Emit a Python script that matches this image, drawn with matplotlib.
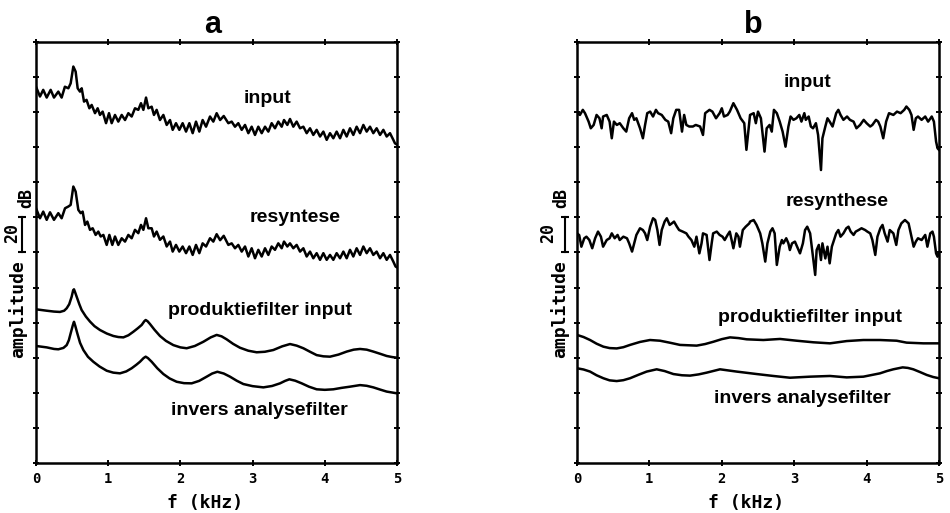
import numpy as np
import matplotlib.pyplot as plt

# ---- panel a: harmonic spectra (kHz, dB) ----
input_a_f = [0.00, 0.055, 0.10, 0.148, 0.203, 0.249, 0.309, 0.355, 0.40, 0.448, 0.48, 0.517, 0.549, 0.577,
             0.609, 0.633, 0.665, 0.70, 0.739, 0.771, 0.817, 0.854, 0.886, 0.923, 0.97, 1.011, 1.048, 1.094,
             1.14, 1.187, 1.233, 1.279, 1.325, 1.371, 1.417, 1.454, 1.487, 1.524, 1.556, 1.602, 1.634, 1.671,
             1.717, 1.764, 1.81, 1.856, 1.893, 1.939, 1.985, 2.031, 2.078, 2.124, 2.17, 2.216, 2.262, 2.308,
             2.355, 2.41, 2.456, 2.502, 2.55, 2.60, 2.664, 2.71, 2.756, 2.802, 2.849, 2.895, 2.941, 2.987,
             3.033, 3.079, 3.126, 3.172, 3.218, 3.264, 3.31, 3.356, 3.403, 3.435, 3.481, 3.518, 3.564, 3.61,
             3.657, 3.703, 3.749, 3.795, 3.841, 3.887, 3.934, 3.98, 4.026, 4.072, 4.118, 4.164, 4.211, 4.257,
             4.303, 4.349, 4.395, 4.441, 4.488, 4.534, 4.58, 4.626, 4.672, 4.718, 4.765, 4.811, 4.857, 4.903,
             4.949, 4.972, 5.0]
input_a_db = [214.5, 208.9, 212.7, 208.3, 212.7, 208.3, 211.7, 208.3, 214.5, 213.6, 216.4, 226.0, 223.1, 213.6,
              211.7, 213.6, 206.0, 207.0, 202.2, 204.1, 199.4, 202.2, 198.4, 200.3, 193.7, 199.4, 193.7, 198.4,
              194.6, 198.4, 195.5, 199.4, 197.5, 202.2, 201.3, 205.1, 201.3, 208.3, 202.2, 203.1, 198.4, 201.3,
              195.5, 198.4, 192.7, 195.5, 189.9, 193.7, 189.9, 193.7, 188.9, 193.7, 188.0, 194.6, 188.9, 195.5,
              191.7, 197.5, 194.6, 199.4, 195.5, 197.8, 193.7, 194.6, 191.7, 193.7, 189.9, 192.7, 188.0, 191.7,
              187.0, 191.7, 188.0, 191.7, 188.9, 193.7, 190.8, 194.6, 191.7, 195.5, 192.7, 196.1, 191.7, 194.6,
              190.8, 191.7, 188.0, 190.8, 187.0, 189.9, 186.1, 188.9, 184.2, 188.0, 185.1, 188.9, 185.1, 189.9,
              186.1, 190.8, 187.0, 191.7, 188.0, 192.7, 188.9, 191.7, 188.0, 190.8, 187.0, 189.9, 186.1, 188.0,
              184.2, 182.2, 181.5]

resyn_a_f = [0.00, 0.055, 0.10, 0.148, 0.194, 0.249, 0.309, 0.355, 0.402, 0.448, 0.48, 0.517, 0.549, 0.586,
             0.619, 0.646, 0.679, 0.711, 0.748, 0.785, 0.826, 0.863, 0.896, 0.933, 0.979, 1.016, 1.057, 1.094,
             1.14, 1.187, 1.233, 1.279, 1.325, 1.371, 1.417, 1.454, 1.487, 1.524, 1.556, 1.602, 1.634, 1.671,
             1.717, 1.764, 1.81, 1.856, 1.893, 1.939, 1.985, 2.031, 2.078, 2.124, 2.17, 2.216, 2.262, 2.308,
             2.355, 2.41, 2.456, 2.502, 2.55, 2.60, 2.664, 2.71, 2.756, 2.802, 2.849, 2.895, 2.941, 2.987,
             3.033, 3.079, 3.126, 3.172, 3.218, 3.264, 3.31, 3.356, 3.403, 3.435, 3.481, 3.518, 3.564, 3.61,
             3.657, 3.703, 3.749, 3.795, 3.841, 3.887, 3.934, 3.98, 4.026, 4.072, 4.118, 4.164, 4.211, 4.257,
             4.303, 4.349, 4.395, 4.441, 4.488, 4.534, 4.58, 4.626, 4.672, 4.718, 4.765, 4.811, 4.857, 4.903,
             4.949, 4.98, 5.0]
resyn_a_db = [145.2, 139.5, 143.3, 138.6, 142.9, 138.6, 142.4, 139.5, 145.2, 146.2, 147.1, 157.6, 154.7, 144.3,
              142.4, 143.3, 135.7, 137.6, 132.9, 133.8, 130.0, 131.9, 129.1, 130.0, 124.3, 130.0, 124.3, 129.1,
              124.3, 128.1, 126.2, 130.0, 128.1, 132.9, 131.0, 135.7, 132.9, 139.5, 133.8, 133.8, 129.1, 131.9,
              127.2, 129.1, 123.4, 126.2, 120.5, 124.3, 120.5, 123.4, 119.6, 123.4, 118.6, 124.3, 119.6, 125.2,
              123.4, 128.1, 126.2, 130.4, 127.0, 129.5, 124.3, 125.2, 122.4, 124.3, 120.5, 123.4, 117.7, 122.4,
              116.7, 121.5, 117.7, 122.4, 118.6, 123.4, 121.5, 125.2, 122.4, 126.2, 123.4, 125.2, 122.4, 124.3,
              120.5, 122.4, 117.7, 120.5, 116.7, 119.6, 115.8, 119.6, 115.8, 118.6, 115.8, 119.6, 116.7, 120.5,
              116.7, 121.5, 117.7, 122.4, 118.6, 123.4, 119.6, 122.4, 118.6, 120.5, 116.7, 119.6, 115.8, 118.6,
              114.8, 112.0, 111.5]

prod_a_f = [0.0, 0.148, 0.25, 0.332, 0.39, 0.425, 0.46, 0.494, 0.515, 0.526, 0.54, 0.563, 0.60, 0.632, 0.69,
            0.748, 0.81, 0.886, 0.98, 1.071, 1.14, 1.21, 1.28, 1.348, 1.41, 1.464, 1.50, 1.519, 1.545, 1.579,
            1.64, 1.717, 1.80, 1.902, 2.0, 2.087, 2.2, 2.318, 2.42, 2.502, 2.57, 2.64, 2.73, 2.825, 2.94,
            3.056, 3.17, 3.287, 3.41, 3.518, 3.61, 3.703, 3.80, 3.887, 3.98, 4.072, 4.19, 4.303, 4.40, 4.488,
            4.58, 4.672, 4.77, 4.857, 4.93, 5.0]
prod_a_db = [87.6, 86.8, 86.3, 86.1, 86.8, 88.2, 90.5, 94.8, 98.5, 99.0, 97.5, 94.8, 90.5, 87.2, 83.5,
             80.6, 78.0, 75.8, 73.8, 72.4, 71.8, 71.6, 72.8, 74.8, 76.8, 78.7, 80.8, 81.5, 80.8, 79.2,
             76.0, 72.4, 69.6, 67.2, 65.9, 65.4, 66.7, 69.1, 71.6, 73.0, 72.2, 70.5, 67.9, 65.7, 64.0,
             63.1, 63.4, 64.4, 66.5, 67.8, 66.9, 65.4, 63.3, 61.5, 60.8, 60.6, 61.8, 63.5, 64.6, 65.0,
             64.6, 63.5, 62.2, 61.0, 60.4, 60.0]

inv_a_f = [0.0, 0.148, 0.25, 0.309, 0.38, 0.425, 0.455, 0.48, 0.51, 0.526, 0.545, 0.572, 0.61, 0.656, 0.72,
           0.794, 0.88, 0.979, 1.07, 1.163, 1.25, 1.325, 1.39, 1.44, 1.49, 1.519, 1.55, 1.602, 1.68, 1.764,
           1.85, 1.948, 2.05, 2.156, 2.26, 2.364, 2.44, 2.512, 2.60, 2.687, 2.78, 2.872, 3.0, 3.149, 3.27,
           3.38, 3.45, 3.509, 3.59, 3.68, 3.78, 3.887, 4.0, 4.118, 4.23, 4.349, 4.488, 4.58, 4.672, 4.77,
           4.857, 5.0]
inv_a_db = [66.7, 65.9, 65.0, 64.8, 65.6, 67.2, 70.0, 73.9, 78.5, 80.5, 78.0, 73.9, 68.5, 64.4, 60.5,
            57.7, 55.0, 52.6, 51.5, 51.1, 52.2, 54.0, 56.0, 57.7, 59.8, 60.6, 59.8, 57.7, 54.0, 50.7,
            48.2, 46.3, 45.5, 45.4, 46.8, 49.2, 51.0, 52.0, 51.0, 49.2, 46.9, 45.0, 43.8, 43.1, 43.9,
            45.4, 46.8, 47.7, 46.9, 45.4, 43.5, 42.0, 41.7, 42.0, 42.8, 43.5, 44.4, 44.0, 43.1, 41.8,
            40.7, 39.7]

# ---- panel b: noise-like spectra ----
input_b_f = [0.00, 0.04, 0.08, 0.11, 0.16, 0.19, 0.23, 0.27, 0.31, 0.34, 0.36, 0.41, 0.45, 0.48, 0.51, 0.55,
             0.59, 0.64, 0.68, 0.72, 0.76, 0.79, 0.82, 0.87, 0.91, 0.94, 0.97, 1.01, 1.05, 1.09, 1.12, 1.17,
             1.22, 1.26, 1.30, 1.33, 1.37, 1.41, 1.45, 1.48, 1.51, 1.55, 1.60, 1.64, 1.70, 1.74, 1.77, 1.83,
             1.87, 1.92, 1.97, 2.00, 2.03, 2.08, 2.11, 2.16, 2.21, 2.26, 2.31, 2.34, 2.38,
             2.39, 2.44, 2.47, 2.50, 2.54, 2.56, 2.59, 2.62, 2.66, 2.69, 2.72, 2.76, 2.80, 2.84, 2.88, 2.92,
             2.95, 2.99, 3.03, 3.07, 3.10, 3.14, 3.16, 3.20, 3.23, 3.26, 3.30, 3.33, 3.37, 3.39, 3.43, 3.46,
             3.49, 3.53, 3.58, 3.61, 3.64, 3.68, 3.73, 3.77, 3.82, 3.86, 3.91, 3.96, 4.00, 4.05, 4.08, 4.13,
             4.16, 4.19, 4.23, 4.27, 4.31, 4.37, 4.42, 4.47, 4.52, 4.55, 4.59, 4.62, 4.65, 4.68, 4.71, 4.76,
             4.81, 4.85, 4.90, 4.93, 4.96, 4.98, 5.0]
input_b_db = [199.4, 198.4, 201.3, 199.4, 194.6, 190.8, 192.7, 198.4, 196.5, 190.8, 197.5, 198.4, 194.6, 185.1,
              194.6, 192.7, 193.7, 190.8, 188.9, 196.5, 199.4, 195.6, 196.5, 190.8, 185.1, 192.7, 199.4, 200.3,
              197.5, 201.3, 199.4, 198.4, 195.6, 194.6, 188.0, 196.5, 201.3, 201.3, 188.9, 198.4, 192.7, 191.8,
              191.8, 192.7, 191.8, 187.0, 199.4, 201.3, 200.3, 196.5, 199.4, 202.2, 197.5, 198.4, 200.3, 205.1,
              201.3, 196.5, 193.7, 178.5, 194.6,
              198.4, 199.4, 193.7, 200.3, 196.5, 188.9, 177.5, 190.8, 192.7, 188.9, 201.3, 199.4, 194.6, 188.9,
              180.3, 191.8, 197.5, 195.6, 196.5, 198.4, 194.6, 199.4, 195.6, 197.5, 191.8, 190.8, 193.7, 187.0,
              167.0, 185.1, 191.8, 196.5, 194.6, 191.8, 199.4, 201.3, 198.4, 195.6, 197.5, 195.6, 194.6, 190.8,
              192.7, 195.6, 193.7, 191.8, 192.7, 195.6, 194.6, 191.8, 185.1, 194.6, 199.4, 198.4, 200.3, 199.4,
              201.3, 203.2, 201.3, 198.4, 189.9, 196.5, 197.5, 195.6, 197.5, 194.6, 197.5, 194.6, 183.2, 179.4,
              178.5]

resyn_b_f = [0.00, 0.03, 0.06, 0.10, 0.13, 0.17, 0.21, 0.25, 0.29, 0.33, 0.36, 0.41, 0.45, 0.48, 0.52, 0.56,
             0.59, 0.64, 0.69, 0.72, 0.76, 0.79, 0.82, 0.87, 0.91, 0.94, 0.97, 1.01, 1.05, 1.08, 1.11, 1.14,
             1.17, 1.21, 1.24, 1.28, 1.31, 1.34, 1.38, 1.41, 1.46, 1.51, 1.54, 1.58, 1.62, 1.65, 1.69, 1.72,
             1.74, 1.79, 1.83, 1.86, 1.88, 1.93, 1.97, 2.01, 2.04, 2.08, 2.11, 2.16, 2.20, 2.23, 2.25, 2.29,
             2.33, 2.38,
             2.39, 2.44, 2.48, 2.53, 2.56, 2.60, 2.63, 2.67, 2.70, 2.73, 2.76, 2.80, 2.83, 2.85, 2.89, 2.92,
             2.94, 2.97, 3.01, 3.04, 3.08, 3.12, 3.15, 3.18, 3.22, 3.26, 3.29, 3.31, 3.34, 3.37, 3.39, 3.43,
             3.46, 3.49, 3.52, 3.55, 3.58, 3.61, 3.64, 3.68, 3.72, 3.75, 3.78, 3.82, 3.85, 3.89, 3.93, 3.98,
             4.01, 4.05, 4.08, 4.12, 4.15, 4.19, 4.22, 4.25, 4.29, 4.32, 4.37, 4.41, 4.44, 4.48, 4.53, 4.58,
             4.61, 4.65, 4.68, 4.71, 4.76, 4.81, 4.84, 4.88, 4.91, 4.93, 4.96, 4.98, 5.0]
resyn_b_db = [130.9, 129.9, 123.3, 128.1, 129.0, 127.1, 122.4, 128.1, 131.9, 129.0, 123.3, 127.1, 128.1, 130.9,
              128.1, 130.0, 127.1, 129.0, 128.1, 125.2, 120.5, 125.2, 130.0, 133.8, 132.8, 130.9, 127.1, 134.7,
              139.5, 138.5, 132.8, 124.3, 132.8, 137.6, 139.5, 135.7, 136.6, 137.6, 134.7, 132.8, 131.9, 130.9,
              129.0, 127.1, 123.3, 129.0, 119.5, 125.2, 130.9, 130.0, 115.7, 125.2, 130.9, 131.9, 130.0, 129.0,
              127.1, 130.0, 131.9, 122.4, 130.9, 129.0, 123.3, 132.8, 134.7, 136.6,
              137.6, 138.5, 135.7, 130.9, 125.2, 114.8, 125.2, 131.9, 133.8, 130.9, 112.9, 123.3, 127.1, 125.2,
              128.1, 125.2, 121.4, 125.2, 126.2, 123.3, 119.5, 125.2, 132.8, 134.7, 130.9, 117.6, 107.2, 121.4,
              124.3, 115.7, 125.2, 116.6, 123.3, 113.8, 123.3, 127.1, 130.9, 132.8, 129.0, 130.9, 133.8, 134.7,
              131.9, 130.0, 131.9, 132.8, 133.8, 132.8, 131.9, 130.9, 127.1, 118.6, 129.0, 133.8, 135.7, 130.9,
              126.2, 132.8, 130.9, 124.3, 132.8, 136.6, 138.5, 136.6, 130.9, 123.3, 126.2, 128.1, 127.1, 130.0,
              123.3, 130.9, 131.9, 129.0, 119.5, 117.6, 120.0]

prod_b_f = [0.0, 0.09, 0.18, 0.27, 0.364, 0.45, 0.548, 0.64, 0.732, 0.87, 1.008, 1.146, 1.29, 1.423, 1.653,
            1.77, 1.883, 2.0, 2.113, 2.23, 2.343, 2.574, 2.804, 3.034, 3.264, 3.494, 3.725, 3.955, 4.185,
            4.415, 4.553, 4.784, 5.0]
prod_b_db = [73.0, 71.8, 70.1, 68.0, 66.3, 65.5, 65.3, 66.0, 67.3, 69.0, 70.1, 69.7, 68.5, 67.3, 66.9,
             67.8, 69.1, 70.6, 71.6, 71.2, 70.5, 70.1, 70.7, 69.7, 68.8, 68.2, 69.5, 70.1, 70.1,
             69.7, 68.6, 68.2, 68.2]

inv_b_f = [0.0, 0.09, 0.18, 0.27, 0.364, 0.45, 0.548, 0.64, 0.732, 0.85, 0.962, 1.1, 1.21, 1.331, 1.45,
           1.561, 1.68, 1.791, 1.975, 2.205, 2.482, 2.712, 2.942, 3.218, 3.494, 3.725, 3.955, 4.185, 4.28,
           4.369, 4.498, 4.57, 4.645, 4.74, 4.83, 4.92, 5.0]
inv_b_db = [54.0, 53.3, 52.1, 50.0, 48.3, 47.1, 46.7, 47.2, 48.3, 50.3, 52.1, 53.4, 52.4, 50.7, 50.0,
            49.8, 50.5, 51.5, 53.4, 52.1, 50.7, 49.6, 48.6, 49.2, 49.6, 48.8, 49.2, 51.1, 52.4,
            53.4, 54.5, 54.2, 53.4, 51.8, 50.2, 49.0, 48.3]

freq_ticks = [0, 1, 2, 3, 4, 5]
level_ticks = list(range(0, 241, 20))

LABEL_FONT = dict(family=['Liberation Sans', 'DejaVu Sans'], weight='bold')
MONO_FONT = dict(family=['DejaVu Sans Mono'], weight='bold')

fig = plt.figure(figsize=(9.5, 5.13), dpi=100)
ax_a = fig.add_axes([0.0379, 0.0975, 0.380, 0.8207])
ax_b = fig.add_axes([0.6074, 0.0975, 0.381, 0.8207])


def style_axes(ax):
    ax.set_xlim(0, 5)
    ax.set_ylim(0, 240)
    ax.set_xticks(freq_ticks)
    ax.set_xticklabels([str(t) for t in freq_ticks], fontsize=10, **MONO_FONT)
    ax.set_yticks(level_ticks)
    ax.tick_params(direction='inout', length=5, width=1.4, top=True, right=True,
                   labelleft=False, pad=4)
    for s in ax.spines.values():
        s.set_linewidth(1.8)
    ax.text(0.468, -0.095, 'f (kHz)', transform=ax.transAxes, ha='center', va='center',
            fontsize=13, **MONO_FONT)


curve_kw = dict(color='black', lw=1.8, solid_joinstyle='round')

ax_a.plot(input_a_f, input_a_db, **curve_kw)
ax_a.plot(resyn_a_f, resyn_a_db, **curve_kw)
ax_a.plot(prod_a_f, prod_a_db, **curve_kw)
ax_a.plot(inv_a_f, inv_a_db, **curve_kw)
style_axes(ax_a)
ax_a.text(3.21, 208, 'input', ha='center', va='center', fontsize=14, **LABEL_FONT)
ax_a.text(3.59, 139.7, 'resyntese', ha='center', va='center', fontsize=14, **LABEL_FONT)
ax_a.text(3.10, 87.2, 'produktiefilter input', ha='center', va='center', fontsize=14, **LABEL_FONT)
ax_a.text(3.09, 30.2, 'invers analysefilter', ha='center', va='center', fontsize=14, **LABEL_FONT)

ax_b.plot(input_b_f, input_b_db, **curve_kw)
ax_b.plot(resyn_b_f, resyn_b_db, **curve_kw)
ax_b.plot(prod_b_f, prod_b_db, **curve_kw)
ax_b.plot(inv_b_f, inv_b_db, **curve_kw)
style_axes(ax_b)
ax_b.text(3.18, 217, 'input', ha='center', va='center', fontsize=14, **LABEL_FONT)
ax_b.text(3.59, 148.8, 'resynthese', ha='center', va='center', fontsize=14, **LABEL_FONT)
ax_b.text(3.22, 82.7, 'produktiefilter input', ha='center', va='center', fontsize=14, **LABEL_FONT)
ax_b.text(3.11, 37, 'invers analysefilter', ha='center', va='center', fontsize=14, **LABEL_FONT)

# amplitude label with 20 dB scale bar
for ax, xbar, x20, xdb, xamp in [(ax_a, -0.194, -0.33, -0.13, -0.25),
                                 (ax_b, -0.166, -0.40, -0.22, -0.235)]:
    ax.plot([xbar, xbar], [120, 140], color='black', lw=1.5, clip_on=False,
            marker='_', ms=6, mew=1.5)
    ax.text(x20, 131, '20', rotation=90, ha='center', va='center', fontsize=12, **MONO_FONT)
    ax.text(xdb, 151, 'dB', rotation=90, ha='center', va='center', fontsize=12, **MONO_FONT)
    ax.text(xamp, 88, 'amplitude', rotation=90, ha='center', va='center', fontsize=13, **MONO_FONT)

fig.text(0.224, 0.936, 'a', ha='center', va='baseline', fontsize=22, **LABEL_FONT)
fig.text(0.793, 0.936, 'b', ha='center', va='baseline', fontsize=22, **LABEL_FONT)

fig.savefig('out.png', dpi=100)
